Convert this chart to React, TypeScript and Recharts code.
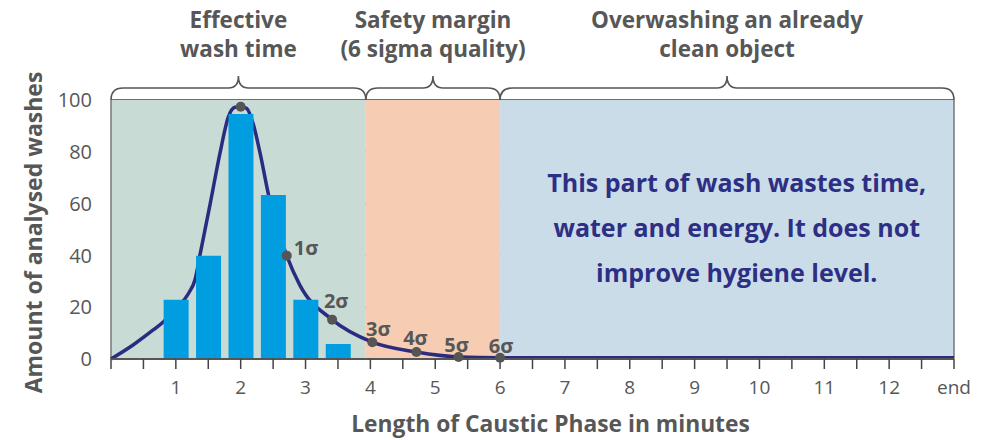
import React from 'react';
import {
  ComposedChart,
  Bar,
  Line,
  Scatter,
  XAxis,
  YAxis,
  CartesianGrid,
  ReferenceArea,
  ReferenceLine,
} from 'recharts';

// ---------- data ----------
const barMinutes = [1, 1.5, 2, 2.5, 3, 3.5];
const barWashes = [22.9, 39.9, 94.6, 63.3, 22.9, 5.8];

const curveMinutes = [0, 0.34, 0.65, 0.81, 1.0, 1.2, 1.3, 1.37, 1.53, 1.68, 1.81, 1.91, 2.0, 2.09, 2.19, 2.3, 2.43, 2.71, 2.91, 3.41, 4.03, 4.71, 5.36, 6.0, 13];
const curveValues = [0, 5.4, 11.2, 14.4, 19.5, 25.5, 31, 39.9, 60, 79.4, 93.5, 97.2, 97.4, 96.8, 91, 79.4, 63.3, 39.9, 28.6, 15.2, 6.5, 2.7, 0.8, 0.5, 0.5];

const sigmaMinutes = [2.0, 2.71, 3.41, 4.03, 4.71, 5.36, 6.0];
const sigmaValues = [97.4, 39.9, 15.2, 6.5, 2.7, 0.8, 0.5];
const sigmaLabels = ['', '1σ', '2σ', '3σ', '4σ', '5σ', '6σ'];

const xTicks = [0, 0.5, 1, 1.5, 2, 2.5, 3, 3.5, 4, 4.5, 5, 5.5, 6, 6.5, 7, 7.5, 8, 8.5, 9, 9.5, 10, 10.5, 11, 11.5, 12, 12.5, 13];
const xTickLabels = ['', '', '1', '', '2', '', '3', '', '4', '', '5', '', '6', '', '7', '', '8', '', '9', '', '10', '', '11', '', '12', '', 'end'];
const yTicks = [0, 20, 40, 60, 80, 100];

const regionStarts = [0, 3.93, 6];
const regionEnds = [3.93, 6, 13];
const regionTitles = [
  ['Effective', 'wash time'],
  ['Safety margin', '(6 sigma quality)'],
  ['Overwashing an already', 'clean object'],
];

const messageLines = [
  'This part of wash wastes time,',
  'water and energy. It does not',
  'improve hygiene level.',
];

const xTitle = 'Length of Caustic Phase in minutes';
const yTitle = 'Amount of analysed washes';

// ---------- styles ----------
const FONT = '"Open Sans", "Noto Sans", sans-serif';
const GRAY = '#575757';
const NAVY = '#2d2f84';
const regionFills = ['#c9dbd5', '#f6cdb2', '#cbdce9'];

const barRows = barMinutes.map((m, i) => ({ minute: m, washes: barWashes[i] }));
const curveRows = curveMinutes.map((m, i) => ({ minute: m, value: curveValues[i] }));
const sigmaRows = sigmaMinutes.map((m, i) => ({ minute: m, value: sigmaValues[i], label: sigmaLabels[i] }));

const labelOffsets = [
  { dx: 0, dy: 0, anchor: 'middle' },
  { dx: 7, dy: -1, anchor: 'start' },
  { dx: 4, dy: -12, anchor: 'middle' },
  { dx: 6, dy: -6, anchor: 'middle' },
  { dx: -1, dy: -7, anchor: 'middle' },
  { dx: -2, dy: -5, anchor: 'middle' },
  { dx: 1, dy: -5, anchor: 'middle' },
];

const makeRegionShape = (idx: number) => (props: any) => {
  const { x, y, width, height } = props;
  const a = x;
  const b = x + width;
  const m = x + width / 2;
  const yb = y - 12;
  const yt = y - 24;
  const d = `M ${a} ${y} C ${a} ${y - 8} ${a + 4} ${yb} ${a + 12} ${yb} L ${m - 10} ${yb} C ${m - 4} ${yb} ${m} ${yb - 4} ${m} ${yt} C ${m} ${yb - 4} ${m + 4} ${yb} ${m + 10} ${yb} L ${b - 12} ${yb} C ${b - 4} ${yb} ${b} ${y - 8} ${b} ${y}`;
  const lines = regionTitles[idx];
  return (
    <g>
      <rect x={x} y={y} width={width} height={height} fill={regionFills[idx]} />
      <path d={d} fill="none" stroke="#555" strokeWidth={1.6} />
      {lines.map((t, i) => (
        <text
          key={i}
          x={m}
          y={28 + i * 29}
          textAnchor="middle"
          fontFamily={FONT}
          fontWeight={700}
          fontSize={22.5}
          fill={GRAY}
        >
          {t}
        </text>
      ))}
    </g>
  );
};

const MessageLabel = (props: any) => {
  const { viewBox } = props;
  const cx = viewBox.x + viewBox.width / 2;
  const cy = viewBox.y + viewBox.height / 2;
  return (
    <g>
      {messageLines.map((t, i) => (
        <text
          key={i}
          x={cx}
          y={cy + (i - 1) * 45}
          textAnchor="middle"
          fontFamily={FONT}
          fontWeight={700}
          fontSize={25}
          fill={NAVY}
        >
          {t}
        </text>
      ))}
    </g>
  );
};

const SigmaShape = (props: any) => {
  const { cx, cy, index, payload } = props;
  const off = labelOffsets[index] || labelOffsets[0];
  return (
    <g>
      <circle cx={cx} cy={cy} r={5} fill="#555" />
      {payload.label ? (
        <text
          x={cx + off.dx}
          y={cy + off.dy}
          textAnchor={off.anchor}
          fontFamily={FONT}
          fontWeight={700}
          fontSize={20}
          fill={GRAY}
        >
          {payload.label}
        </text>
      ) : null}
    </g>
  );
};

const XTitle = (props: any) => {
  const { viewBox } = props;
  return (
    <text
      x={viewBox.x + viewBox.width / 2 + 18}
      y={432}
      textAnchor="middle"
      fontFamily={FONT}
      fontWeight={700}
      fontSize={22.8}
      fill={GRAY}
    >
      {xTitle}
    </text>
  );
};

const YTitle = (props: any) => {
  const { viewBox } = props;
  const cy = viewBox.y + viewBox.height / 2 + 3;
  const x = 42;
  return (
    <text
      x={x}
      y={cy}
      transform={`rotate(-90, ${x}, ${cy})`}
      textAnchor="middle"
      fontFamily={FONT}
      fontWeight={700}
      fontSize={23}
      fill={GRAY}
    >
      {yTitle}
    </text>
  );
};

export default function App() {
  return (
    <div style={{ position: 'absolute', left: 0, top: 0, width: 989, height: 440, background: '#fff' }}>
      <ComposedChart
        width={989}
        height={440}
        data={barRows}
        margin={{ top: 100, right: 35, bottom: 0, left: 0 }}
      >
        {regionStarts.map((s, i) => (
          <ReferenceArea
            key={i}
            x1={s}
            x2={regionEnds[i]}
            y1={0}
            y2={100}
            shape={makeRegionShape(i)}
            ifOverflow="visible"
          />
        ))}
        <CartesianGrid vertical={false} stroke="#6e6e6e" strokeWidth={2} />
        <ReferenceLine x={0} stroke="#777" strokeWidth={1.5} />
        <ReferenceLine x={13} stroke="#777" strokeWidth={1.5} />
        <ReferenceArea
          x1={6.35}
          x2={12.95}
          y1={30}
          y2={64}
          fill="none"
          fillOpacity={0}
          label={<MessageLabel />}
        />
        <Line
          data={curveRows}
          xAxisId="c"
          dataKey="value"
          type="monotone"
          stroke="#2b2b82"
          strokeWidth={3.5}
          dot={false}
          activeDot={false}
          isAnimationActive={false}
        />
        <Bar dataKey="washes" fill="#009ee0" barSize={25} isAnimationActive={false} zIndex={450} />
        <Scatter
          data={sigmaRows}
          xAxisId="c"
          dataKey="value"
          shape={SigmaShape}
          isAnimationActive={false}
          zIndex={600}
        />
        <XAxis
          dataKey="minute"
          type="number"
          domain={[0, 13]}
          ticks={xTicks}
          interval={0}
          height={81}
          tickSize={10}
          tickMargin={12}
          stroke="#555"
          axisLine={{ stroke: '#555', strokeWidth: 2 }}
          tickLine={{ stroke: '#444', strokeWidth: 1.5 }}
          tickFormatter={(v: number) => xTickLabels[xTicks.indexOf(v)] ?? ''}
          tick={{ fill: GRAY, fontSize: 19, fontFamily: FONT }}
          label={<XTitle />}
        />
        <XAxis xAxisId="c" dataKey="minute" type="number" domain={[0, 13]} hide />
        <YAxis
          type="number"
          domain={[0, 100]}
          ticks={yTicks}
          width={111}
          axisLine={false}
          tickLine={false}
          tickSize={6}
          tickMargin={13}
          tick={{ fill: GRAY, fontSize: 20, fontFamily: FONT }}
          label={<YTitle />}
        />
      </ComposedChart>
    </div>
  );
}
